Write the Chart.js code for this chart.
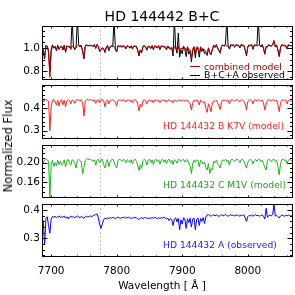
<!DOCTYPE html>
<html><head><meta charset="utf-8">
<script src="https://cdn.jsdelivr.net/npm/chart.js@4.4.1/dist/chart.umd.min.js"></script>
<style>
html,body{margin:0;padding:0;background:#fff;}
#wrap{position:relative;width:295px;height:295px;overflow:hidden;background:#fff;}
canvas{position:absolute;left:0;}
#ylab{position:absolute;left:8px;top:145.5px;transform:translate(-50%,-50%) rotate(-90deg);font:11.5px "DejaVu Sans";white-space:nowrap;color:#000;}
</style></head><body>
<div id="wrap">
<canvas id="c1" width="295" height="84" style="top:0px"></canvas>
<canvas id="c2" width="295" height="56" style="top:84px"></canvas>
<canvas id="c3" width="295" height="55" style="top:144px"></canvas>
<canvas id="c4" width="295" height="92" style="top:203px"></canvas>
<div id="ylab">Normalized Flux</div>
</div>
<script>
const titleText = 'HD 144442 B+C';
const xTitleText = 'Wavelength [ Å ]';
const wave = [
7686,7688,7690,7692,7694,7696,7698,7700,7702,7704,
7706,7708,7710,7712,7714,7716,7718,7720,7722,7724,
7726,7728,7730,7732,7734,7736,7738,7740,7742,7744,
7746,7748,7750,7752,7754,7756,7758,7760,7762,7764,
7766,7768,7770,7772,7774,7776,7778,7780,7782,7784,
7786,7788,7790,7792,7794,7796,7798,7800,7802,7804,
7806,7808,7810,7812,7814,7816,7818,7820,7822,7824,
7826,7828,7830,7832,7834,7836,7838,7840,7842,7844,
7846,7848,7850,7852,7854,7856,7858,7860,7862,7864,
7866,7868,7870,7872,7874,7876,7878,7880,7882,7884,
7886,7888,7890,7892,7894,7896,7898,7900,7902,7904,
7906,7908,7910,7912,7914,7916,7918,7920,7922,7924,
7926,7928,7930,7932,7934,7936,7938,7940,7942,7944,
7946,7948,7950,7952,7954,7956,7958,7960,7962,7964,
7966,7968,7970,7972,7974,7976,7978,7980,7982,7984,
7986,7988,7990,7992,7994,7996,7998,8000,8002,8004,
8006,8008,8010,8012,8014,8016,8018,8020,8022,8024,
8026,8028,8030,8032,8034,8036,8038,8040,8042,8044,
8046,8048,8050,8052,8054,8056,8058,8060,8062,8064,
8066,8068];

const observedBCA = [
1.005,0.975,0.905,1.025,1.012,0.965,0.790,0.985,1.028,0.998,
1.015,0.975,1.024,0.992,1.005,1.018,0.982,1.026,0.962,1.020,
1.008,1.016,0.988,1.250,1.010,0.985,1.008,1.250,1.030,1.018,
1.022,0.970,0.905,1.018,1.030,1.015,1.026,1.018,1.024,1.012,
1.030,0.995,1.032,1.010,0.968,0.985,1.002,0.992,0.960,1.006,
1.022,0.975,1.014,1.020,1.012,1.250,0.985,0.965,1.022,1.012,
1.020,1.005,1.024,1.010,0.992,1.022,1.012,0.998,1.020,0.990,
1.018,1.012,1.016,0.978,0.930,0.980,0.958,1.014,1.022,1.008,
0.980,1.016,1.012,0.994,1.022,0.985,1.020,1.010,0.998,1.022,
0.985,1.020,1.010,1.014,1.005,0.985,1.018,0.995,0.992,0.998,
0.930,1.250,1.000,0.955,1.130,0.920,0.985,0.950,1.012,0.985,
0.925,1.005,0.945,0.975,0.880,0.975,1.008,0.915,1.000,0.995,
0.920,1.004,0.970,0.990,0.950,0.960,0.935,1.000,0.955,0.940,
0.985,1.026,1.004,1.030,0.995,0.975,0.955,1.020,1.028,1.014,
1.035,1.250,1.024,0.990,1.030,1.018,1.030,1.006,1.030,1.020,
1.026,1.000,1.032,1.018,1.026,0.980,0.930,1.010,1.028,1.016,
1.030,0.988,1.028,1.020,1.022,1.250,1.030,1.008,1.030,0.995,
0.945,1.015,1.008,1.030,1.016,1.020,1.032,1.060,1.008,1.028,
0.978,0.925,1.008,1.030,1.018,1.024,1.016,0.992,1.030,1.018,
1.024,1.010];

const combinedModel = [
1.011,0.988,0.919,1.017,1.018,0.980,0.746,0.969,1.018,1.004,
1.008,0.981,1.017,0.985,1.010,1.010,0.988,1.020,0.970,1.012,
1.013,1.009,0.993,1.017,1.014,0.992,1.001,1.023,1.019,1.011,
1.015,0.976,0.926,1.012,1.023,1.022,1.019,1.024,1.018,1.017,
1.026,1.001,1.027,1.016,0.973,0.979,0.996,0.997,0.967,0.999,
1.016,0.982,1.008,1.014,1.019,1.007,0.991,0.972,1.016,1.017,
1.013,1.011,1.017,1.016,0.999,1.016,1.017,1.004,1.013,0.996,
1.012,1.019,1.009,0.984,0.939,0.985,0.966,1.007,1.016,1.013,
0.986,1.010,1.017,1.000,1.016,0.991,1.015,1.017,1.004,1.015,
0.992,1.014,1.016,1.007,1.015,0.993,1.012,1.007,1.000,1.007,
0.965,1.011,1.011,0.986,1.013,0.975,0.999,0.991,1.017,1.000,
0.976,1.012,0.982,0.985,0.910,0.990,1.013,0.961,1.009,1.010,
0.952,1.011,0.994,0.995,0.983,0.965,0.949,1.002,0.963,0.951,
0.991,1.020,1.009,1.023,1.003,0.981,0.965,1.015,1.022,1.020,
1.029,1.014,1.019,0.996,1.024,1.025,1.023,1.013,1.024,1.028,
1.018,1.008,1.025,1.025,1.019,0.988,0.941,1.004,1.022,1.024,
1.021,0.995,1.022,1.028,1.016,1.024,1.023,1.014,1.024,1.000,
0.950,1.009,1.014,1.025,1.023,1.013,1.027,1.066,1.014,1.022,
0.983,0.932,1.002,1.025,1.025,1.016,1.024,0.997,1.023,1.025,
1.018,1.014];

const modelB = [
0.434,0.428,0.437,0.439,0.436,0.432,0.300,0.405,0.436,0.438,
0.430,0.415,0.436,0.410,0.434,0.438,0.416,0.436,0.407,0.433,
0.438,0.436,0.420,0.437,0.433,0.422,0.436,0.439,0.437,0.434,
0.438,0.425,0.366,0.432,0.438,0.439,0.436,0.438,0.437,0.434,
0.438,0.422,0.436,0.437,0.425,0.438,0.439,0.436,0.407,0.430,
0.438,0.420,0.434,0.437,0.438,0.433,0.428,0.410,0.436,0.438,
0.437,0.434,0.438,0.436,0.428,0.437,0.438,0.432,0.437,0.425,
0.436,0.438,0.434,0.420,0.389,0.418,0.405,0.433,0.437,0.435,
0.420,0.436,0.438,0.430,0.437,0.424,0.436,0.438,0.433,0.437,
0.425,0.436,0.438,0.432,0.437,0.427,0.436,0.438,0.430,0.436,
0.424,0.437,0.435,0.429,0.437,0.438,0.432,0.436,0.438,0.431,
0.436,0.437,0.428,0.420,0.392,0.425,0.436,0.430,0.437,0.434,
0.415,0.436,0.432,0.425,0.430,0.400,0.382,0.420,0.405,0.385,
0.425,0.434,0.430,0.436,0.425,0.410,0.395,0.430,0.437,0.435,
0.438,0.432,0.436,0.420,0.436,0.438,0.436,0.432,0.437,0.438,
0.434,0.430,0.437,0.438,0.433,0.420,0.392,0.428,0.436,0.438,
0.435,0.420,0.436,0.438,0.434,0.437,0.438,0.432,0.436,0.425,
0.392,0.418,0.436,0.438,0.436,0.432,0.437,0.438,0.433,0.436,
0.415,0.385,0.425,0.437,0.438,0.434,0.437,0.420,0.436,0.438,
0.435,0.430];

const modelC = [
0.205,0.200,0.206,0.208,0.206,0.203,0.128,0.196,0.205,0.192,
0.200,0.194,0.205,0.196,0.203,0.195,0.198,0.206,0.192,0.203,
0.207,0.198,0.195,0.206,0.204,0.198,0.189,0.205,0.207,0.204,
0.200,0.177,0.190,0.204,0.207,0.208,0.206,0.207,0.205,0.203,
0.206,0.195,0.205,0.207,0.200,0.206,0.207,0.196,0.189,0.200,
0.206,0.192,0.201,0.206,0.207,0.202,0.194,0.189,0.205,0.207,
0.206,0.203,0.207,0.205,0.200,0.206,0.204,0.200,0.206,0.198,
0.205,0.207,0.203,0.195,0.184,0.196,0.188,0.204,0.207,0.204,
0.195,0.205,0.207,0.200,0.206,0.196,0.205,0.207,0.202,0.206,
0.197,0.205,0.207,0.201,0.206,0.198,0.205,0.207,0.200,0.205,
0.196,0.206,0.204,0.199,0.206,0.207,0.202,0.205,0.207,0.201,
0.205,0.206,0.199,0.194,0.178,0.197,0.205,0.201,0.206,0.204,
0.192,0.205,0.202,0.197,0.201,0.190,0.185,0.198,0.178,0.188,
0.185,0.203,0.200,0.205,0.198,0.194,0.189,0.202,0.206,0.204,
0.207,0.202,0.205,0.195,0.205,0.207,0.205,0.202,0.206,0.207,
0.204,0.200,0.206,0.207,0.203,0.196,0.189,0.200,0.205,0.207,
0.204,0.197,0.205,0.207,0.203,0.206,0.207,0.202,0.205,0.198,
0.190,0.185,0.204,0.207,0.205,0.202,0.206,0.207,0.203,0.205,
0.192,0.175,0.198,0.206,0.207,0.204,0.206,0.198,0.205,0.207,
0.205,0.203];

const observedA = [
0.372,0.360,0.276,0.370,0.376,0.345,0.318,0.368,0.377,0.374,
0.378,0.372,0.376,0.379,0.373,0.377,0.374,0.378,0.371,0.376,
0.368,0.375,0.378,0.374,0.377,0.372,0.376,0.379,0.375,0.373,
0.377,0.374,0.370,0.376,0.378,0.375,0.377,0.379,0.376,0.380,
0.382,0.384,0.386,0.372,0.348,0.335,0.350,0.365,0.371,0.369,
0.372,0.370,0.373,0.371,0.374,0.372,0.369,0.373,0.375,0.372,
0.370,0.374,0.372,0.375,0.371,0.373,0.375,0.372,0.370,0.373,
0.371,0.374,0.372,0.369,0.366,0.371,0.373,0.370,0.372,0.374,
0.371,0.369,0.372,0.370,0.373,0.371,0.374,0.372,0.369,0.372,
0.370,0.373,0.371,0.374,0.372,0.368,0.371,0.362,0.370,0.366,
0.345,0.368,0.372,0.358,0.370,0.330,0.365,0.350,0.372,0.368,
0.335,0.369,0.355,0.371,0.340,0.368,0.372,0.330,0.366,0.372,
0.345,0.370,0.360,0.373,0.352,0.375,0.382,0.384,0.380,0.378,
0.381,0.383,0.379,0.382,0.380,0.377,0.381,0.383,0.379,0.381,
0.384,0.380,0.378,0.381,0.383,0.380,0.382,0.379,0.381,0.383,
0.380,0.378,0.382,0.380,0.383,0.372,0.360,0.376,0.381,0.379,
0.382,0.378,0.381,0.383,0.379,0.381,0.378,0.380,0.383,0.377,
0.368,0.406,0.374,0.380,0.382,0.379,0.384,0.421,0.378,0.381,
0.376,0.372,0.379,0.382,0.380,0.378,0.381,0.379,0.382,0.380,
0.378,0.381];

const xTicks = [7700, 7800, 7900, 8000];
const xTickLabels = ['7700', '7800', '7900', '8000'];
const yTicks1 = [0.8, 1.0];   const yLabels1 = ['0.8', '1.0'];
const yTicks2 = [0.3, 0.4];   const yLabels2 = ['0.3', '0.4'];
const yTicks3 = [0.16, 0.20]; const yLabels3 = ['0.16', '0.20'];
const yTicks4 = [0.3, 0.4];   const yLabels4 = ['0.3', '0.4'];
const markWave = 7775;

const FONT = '"DejaVu Sans", sans-serif';
Chart.defaults.font.family = FONT;

function pts(vals) { return vals.map((v, i) => ({ x: wave[i], y: v })); }

const panelCfg = {
  c1: { yMinor: 0.05, yTicks: yTicks1, legend: true,
        texts: [{ t: titleText, x: 162, y: 20.7, size: 14, color: '#000', align: 'center' }] },
  c2: { yMinor: 0.02, yTicks: yTicks2,
        texts: [{ t: 'HD 144432 B K7V (model)', x: 163, y: 45.3, size: 9.2, color: '#ff2020', align: 'left' }] },
  c3: { yMinor: 0.01, yTicks: yTicks3,
        texts: [{ t: 'HD 144432 C M1V (model)', x: 163, y: 44.3, size: 9.2, color: '#20a020', align: 'left' }] },
  c4: { yMinor: 0.02, yTicks: yTicks4,
        texts: [{ t: 'HD 144432 A (observed)', x: 163, y: 45.3, size: 9.2, color: '#2020ff', align: 'left' },
                { t: xTitleText, x: 162, y: 85.5, size: 10.5, color: '#000', align: 'center' }] }
};

const framePlugin = {
  id: 'frame',
  beforeDatasetsDraw(chart) {
    const { ctx, chartArea: a, scales: { x } } = chart;
    const px = Math.round(x.getPixelForValue(markWave)) + 0.5;
    ctx.save();
    ctx.strokeStyle = '#c4c4c4'; ctx.lineWidth = 1; ctx.setLineDash([2, 2]);
    ctx.beginPath(); ctx.moveTo(px, a.top); ctx.lineTo(px, a.bottom); ctx.stroke();
    ctx.restore();
  },
  afterDatasetsDraw(chart) {
    const cfg = panelCfg[chart.canvas.id];
    const { ctx, chartArea: a, scales: { x, y } } = chart;
    ctx.save();
    ctx.strokeStyle = '#000'; ctx.lineWidth = 1; ctx.setLineDash([]);
    const L = Math.round(a.left) + 0.5, R = Math.round(a.right) - 0.5;
    const T = Math.round(a.top) + 0.5, B = Math.round(a.bottom) - 0.5;
    ctx.strokeRect(L, T, R - L, B - T);
    ctx.beginPath();
    const st = cfg.yMinor;
    for (let k = Math.ceil(y.min / st - 1e-6); k * st <= y.max + 1e-9; k++) {
      const v = k * st;
      const major = cfg.yTicks.some(t => Math.abs(t - v) < 1e-6);
      const len = major ? 5 : 2.5;
      const p = Math.round(y.getPixelForValue(v)) + 0.5;
      ctx.moveTo(L, p); ctx.lineTo(L + len, p);
      ctx.moveTo(R, p); ctx.lineTo(R - len, p);
    }
    for (let k = Math.ceil(x.min / 20); k * 20 <= x.max; k++) {
      const v = k * 20;
      const len = (v % 100 === 0) ? 2 : 1;
      const p = Math.round(x.getPixelForValue(v)) + 0.5;
      ctx.moveTo(p, B); ctx.lineTo(p, B - len);
      ctx.moveTo(p, T); ctx.lineTo(p, T + len);
    }
    ctx.stroke();
    ctx.restore();
  },
  afterDraw(chart) {
    const cfg = panelCfg[chart.canvas.id];
    const ctx = chart.ctx;
    ctx.save();
    ctx.textBaseline = 'alphabetic';
    cfg.texts.forEach(o => {
      ctx.font = o.size + 'px ' + FONT;
      ctx.fillStyle = o.color; ctx.textAlign = o.align;
      ctx.fillText(o.t, o.x, o.y);
    });
    if (cfg.legend) {
      const rows = [69.5, 78];
      chart.data.datasets.forEach((ds, i) => {
        const yy = rows[i];
        const ly = Math.round(yy - 3.5) + 0.5;
        ctx.strokeStyle = ds.borderColor; ctx.lineWidth = 1;
        ctx.beginPath(); ctx.moveTo(190, ly); ctx.lineTo(200, ly); ctx.stroke();
        ctx.font = '9.3px ' + FONT; ctx.fillStyle = ds.borderColor; ctx.textAlign = 'left';
        ctx.fillText(ds.label, 204, yy);
      });
    }
    ctx.restore();
  }
};

function makeChart(id, datasets, o) {
  return new Chart(document.getElementById(id), {
    type: 'line',
    data: { datasets },
    options: {
      responsive: false, animation: false, events: [],
      layout: { padding: o.padding },
      plugins: { legend: { display: false }, tooltip: { enabled: false }, title: { display: false } },
      elements: { point: { radius: 0 }, line: { borderWidth: 1, tension: 0 } },
      scales: {
        x: {
          type: 'linear', min: 7686, max: 8069, display: !!o.showX,
          afterBuildTicks: s => { s.ticks = xTicks.map(v => ({ value: v })); },
          afterFit: s => { if (o.showX) s.height = 38; s.paddingLeft = 0; s.paddingRight = 0; s.paddingTop = 0; s.paddingBottom = 0; },
          grid: { display: false, drawTicks: false }, border: { display: false },
          ticks: { font: { family: FONT, size: 10.5 }, color: '#000', padding: 8, maxRotation: 0, autoSkip: false,
                   callback: (v, i) => xTickLabels[i] }
        },
        y: {
          type: 'linear', min: o.yMin, max: o.yMax, position: 'left',
          afterBuildTicks: s => { s.ticks = o.yTicks.map(v => ({ value: v })); },
          afterFit: s => { s.width = 42; s.paddingTop = 0; s.paddingBottom = 0; s.paddingLeft = 0; s.paddingRight = 0; },
          grid: { display: false, drawTicks: false }, border: { display: false },
          ticks: { font: { family: FONT, size: 10.5 }, color: '#000', padding: 2, autoSkip: false,
                   callback: (v, i) => o.yLabels[i] }
        }
      }
    },
    plugins: [framePlugin]
  });
}

makeChart('c1', [
  { label: 'combined model', data: pts(combinedModel), borderColor: '#b00000' },
  { label: 'B+C+A observed', data: pts(observedBCA), borderColor: '#000000' }
], { padding: { top: 26, bottom: 4, left: 0, right: 2 }, yMin: 0.722, yMax: 1.191, yTicks: yTicks1, yLabels: yLabels1 });

makeChart('c2', [
  { label: 'HD 144432 B K7V (model)', data: pts(modelB), borderColor: '#ff2020' }
], { padding: { top: 1, bottom: 1, left: 0, right: 2 }, yMin: 0.263, yMax: 0.504, yTicks: yTicks2, yLabels: yLabels2 });

makeChart('c3', [
  { label: 'HD 144432 C M1V (model)', data: pts(modelC), borderColor: '#20b020' }
], { padding: { top: 1, bottom: 1, left: 0, right: 2 }, yMin: 0.128, yMax: 0.236, yTicks: yTicks3, yLabels: yLabels3 });

makeChart('c4', [
  { label: 'HD 144432 A (observed)', data: pts(observedA), borderColor: '#0000ff' }
], { padding: { top: 1, bottom: 0, left: 0, right: 2 }, yMin: 0.234, yMax: 0.421, yTicks: yTicks4, yLabels: yLabels4, showX: true });
</script>
</body></html>
